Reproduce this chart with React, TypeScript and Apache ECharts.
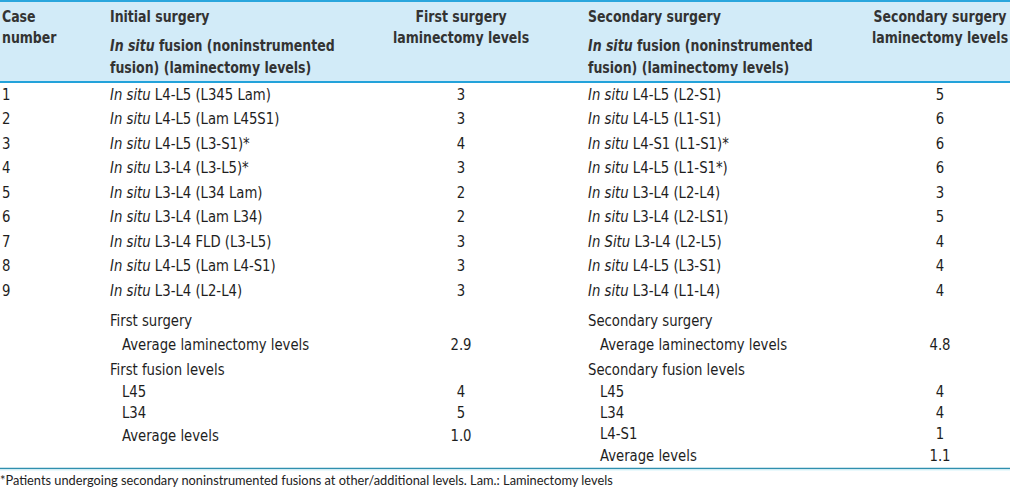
import React, { useEffect, useRef } from "react";
import * as echarts from "echarts";

// ---------- data ----------
const caseNumbers = ["1", "2", "3", "4", "5", "6", "7", "8", "9"];
const initialPrefix = ["In situ", "In situ", "In situ", "In situ", "In situ", "In situ", "In situ", "In situ", "In situ"];
const initialFusion = [
  "L4-L5 (L345 Lam)",
  "L4-L5 (Lam L45S1)",
  "L4-L5 (L3-S1)*",
  "L3-L4 (L3-L5)*",
  "L3-L4 (L34 Lam)",
  "L3-L4 (Lam L34)",
  "L3-L4 FLD (L3-L5)",
  "L4-L5 (Lam L4-S1)",
  "L3-L4 (L2-L4)",
];
const firstLamLevels = ["3", "3", "4", "3", "2", "2", "3", "3", "3"];
const secondaryPrefix = ["In situ", "In situ", "In situ", "In situ", "In situ", "In situ", "In Situ", "In situ", "In situ"];
const secondaryFusion = [
  "L4-L5 (L2-S1)",
  "L4-L5 (L1-S1)",
  "L4-S1 (L1-S1)*",
  "L4-L5 (L1-S1*)",
  "L3-L4 (L2-L4)",
  "L3-L4 (L2-LS1)",
  "L3-L4 (L2-L5)",
  "L4-L5 (L3-S1)",
  "L3-L4 (L1-L4)",
];
const secondLamLevels = ["5", "6", "6", "6", "3", "5", "4", "4", "4"];

const leftSummaryLabels = ["First surgery", "Average laminectomy levels", "First fusion levels", "L45", "L34", "Average levels"];
const leftSummaryIndent = [0, 1, 0, 1, 1, 1];
const leftSummaryValues = ["", "2.9", "", "4", "5", "1.0"];
const rightSummaryLabels = ["Secondary surgery", "Average laminectomy levels", "Secondary fusion levels", "L45", "L34", "L4-S1", "Average levels"];
const rightSummaryIndent = [0, 1, 0, 1, 1, 1, 1];
const rightSummaryValues = ["", "4.8", "", "4", "4", "1", "1.1"];

const headerCol1 = ["Case", "number"];
const headerCol2 = ["Initial surgery", "{bi|In situ} fusion (noninstrumented", "fusion) (laminectomy levels)"];
const headerCol3 = ["First surgery", "laminectomy levels"];
const headerCol4 = ["Secondary surgery", "{bi|In situ} fusion (noninstrumented", "fusion) (laminectomy levels)"];
const headerCol5 = ["Secondary surgery", "laminectomy levels"];
const footnote = "*Patients undergoing secondary noninstrumented fusions at other/additional levels. Lam.: Laminectomy levels";

// ---------- layout ----------
const W = 1010;
const H = 487;
const FONT = "'Liberation Sans Narrow', 'Arial Narrow', 'DejaVu Sans Condensed', Roboto, sans-serif";
const FS = 16;
const BODY_SCALE = 0.92;
const HDR_SCALE = 0.87;
const X1 = 2;
const X2 = 110;
const X3 = 461;
const X4 = 588;
const X5 = 940;
const INDENT = 12;
const ROW0 = 94.5;
const ROWSTEP = 24.5;
const SUM_LEFT_Y = [321, 345, 370, 392, 413, 436];
const SUM_RIGHT_Y = [321, 345, 370, 392, 413, 434, 456];
const HDR_Y2 = [17, 46, 68];
const HDR_Y_SHORT = [17, 38];

const HDR_COLOR = "#333333";
const BODY_COLOR = "#1e1e1e";

function txt(x: number, y: number, text: string, opts: any = {}) {
  const fill = opts.fill || BODY_COLOR;
  return {
    type: "text",
    x,
    y,
    scaleX: opts.bold ? HDR_SCALE : BODY_SCALE,
    silent: true,
    style: {
      text,
      fill,
      fontFamily: FONT,
      fontSize: FS,
      fontWeight: opts.bold ? "bold" : "normal",
      fontStyle: "normal",
      align: opts.align || "left",
      verticalAlign: "middle",
      textAlign: opts.align || "left",
      textVerticalAlign: "middle",
      rich: {
        i: { fontStyle: "italic", fontFamily: FONT, fontSize: FS, fill },
        bi: { fontStyle: "italic", fontWeight: "bold", fontFamily: FONT, fontSize: FS, fill },
      },
    },
  };
}

function buildElements() {
  const els: any[] = [];
  // header band
  els.push({ type: "rect", shape: { x: 0, y: 0, width: W, height: 82 }, style: { fill: "#d2ebf8" }, silent: true });
  els.push({ type: "line", shape: { x1: 0, y1: 1, x2: W, y2: 1 }, style: { stroke: "#2aa6dd", lineWidth: 2 }, silent: true });
  els.push({ type: "line", shape: { x1: 0, y1: 82, x2: W, y2: 82 }, style: { stroke: "#23a2da", lineWidth: 2 }, silent: true });
  // footer line
  els.push({ type: "line", shape: { x1: 0, y1: 468.5, x2: W, y2: 468.5 }, style: { stroke: "#2f8fae", lineWidth: 1.6 }, silent: true });
  els.push({ type: "line", shape: { x1: 0, y1: 470, x2: W, y2: 470 }, style: { stroke: "#d6f4fa", lineWidth: 1 }, silent: true });

  // headers
  headerCol1.forEach((t, i) => els.push(txt(X1, HDR_Y_SHORT[i], t, { bold: true, fill: HDR_COLOR })));
  headerCol2.forEach((t, i) => els.push(txt(X2, HDR_Y2[i], t, { bold: true, fill: HDR_COLOR })));
  headerCol3.forEach((t, i) => els.push(txt(X3, HDR_Y_SHORT[i], t, { bold: true, fill: HDR_COLOR, align: "center" })));
  headerCol4.forEach((t, i) => els.push(txt(X4, HDR_Y2[i], t, { bold: true, fill: HDR_COLOR })));
  headerCol5.forEach((t, i) => els.push(txt(X5, HDR_Y_SHORT[i], t, { bold: true, fill: HDR_COLOR, align: "center" })));

  // body rows
  caseNumbers.forEach((c, i) => {
    const y = ROW0 + i * ROWSTEP;
    els.push(txt(X1, y, c));
    els.push(txt(X2, y, `{i|${initialPrefix[i]}} ${initialFusion[i]}`));
    els.push(txt(X3, y, firstLamLevels[i], { align: "center" }));
    els.push(txt(X4, y, `{i|${secondaryPrefix[i]}} ${secondaryFusion[i]}`));
    els.push(txt(X5, y, secondLamLevels[i], { align: "center" }));
  });

  // summaries
  leftSummaryLabels.forEach((l, i) => {
    const y = SUM_LEFT_Y[i];
    els.push(txt(X2 + leftSummaryIndent[i] * INDENT, y, l));
    if (leftSummaryValues[i]) els.push(txt(X3, y, leftSummaryValues[i], { align: "center" }));
  });
  rightSummaryLabels.forEach((l, i) => {
    const y = SUM_RIGHT_Y[i];
    els.push(txt(X4 + rightSummaryIndent[i] * INDENT, y, l));
    if (rightSummaryValues[i]) els.push(txt(X5, y, rightSummaryValues[i], { align: "center" }));
  });

  // footnote
  els.push({
    type: "text",
    x: 0,
    y: 480,
    silent: true,
    style: {
      text: footnote,
      fill: "#222222",
      fontFamily: "Lato, 'Open Sans', sans-serif",
      fontSize: 12.8,
      align: "left",
      verticalAlign: "middle",
      textAlign: "left",
      textVerticalAlign: "middle",
    },
  });
  return els;
}

export default function App() {
  const ref = useRef<HTMLDivElement>(null);
  useEffect(() => {
    if (!ref.current) return;
    const chart = echarts.init(ref.current, null, { renderer: "svg" });
    chart.setOption({
      animation: false,
      backgroundColor: "#ffffff",
      graphic: { elements: buildElements() },
    });
    return () => chart.dispose();
  }, []);
  return <div ref={ref} style={{ position: "fixed", left: 0, top: 0, width: W, height: H }} />;
}
